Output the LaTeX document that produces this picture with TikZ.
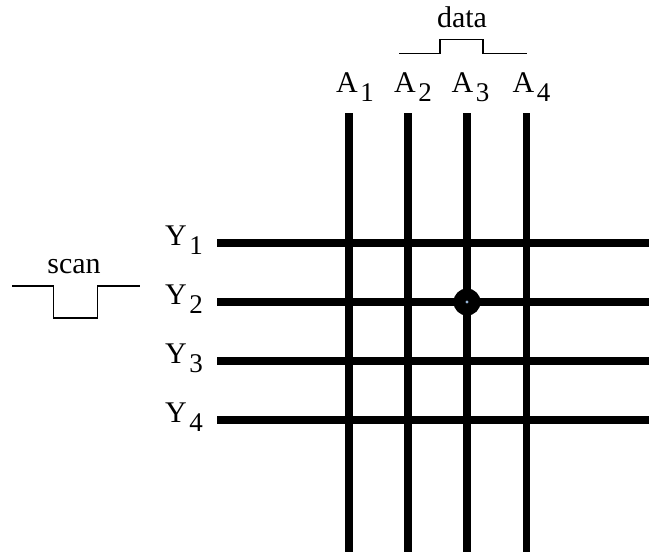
\documentclass[tikz,border=0pt]{standalone}
\usepackage{fontspec}
\setmainfont{Liberation Serif}
\newcommand{\sublab}[2]{#1\hspace{0.08em}\raisebox{-0.3em}{\fontsize{27}{27}\selectfont #2}}
\tikzset{
  wire/.style={line width=7.5pt},
  pulse/.style={line width=1.8pt},
  lab/.style={inner sep=0pt,anchor=base west,font=\fontsize{30}{30}\selectfont}
}
\begin{document}
\begin{tikzpicture}[x=1pt,y=-1pt]
  \useasboundingbox (0,0) rectangle (649,552);
  % address lines
  \draw[wire] (349,113) -- (349,552);
  \draw[wire] (408,113) -- (408,552);
  \draw[wire] (467,113) -- (467,552);
  \draw[wire] (526.5,113) -- (526.5,552);
  % scan lines
  \draw[wire] (217,243) -- (649,243);
  \draw[wire] (217,302) -- (649,302);
  \draw[wire] (217,361) -- (649,361);
  \draw[wire] (217,420) -- (649,420);
  % selected pixel
  \fill (467,302) circle (13.5);
  \fill[color={rgb,255:red,150;green,180;blue,215}] (467,302) circle (1.6);
  % data pulse
  \draw[pulse] (399,53.5) -- (440,53.5) -- (440,39.5) -- (483,39.5) -- (483,53.5) -- (527,53.5);
  \node[lab,anchor=base] (data) at (462,27) {data};
  % scan pulse
  \draw[pulse] (12,286) -- (53.5,286) -- (53.5,318) -- (97.5,318) -- (97.5,286) -- (140,286);
  \node[lab,anchor=base] (scan) at (74,273) {scan};
  % labels
  \node[lab] (a1) at (336,92) {\sublab{A}{1}};
  \node[lab] (a2) at (394,92) {\sublab{A}{2}};
  \node[lab] (a3) at (451.5,92) {\sublab{A}{3}};
  \node[lab] (a4) at (512.5,92) {\sublab{A}{4}};
  \node[lab] (y1) at (165,245) {\sublab{Y}{1}};
  \node[lab] (y2) at (165,304) {\sublab{Y}{2}};
  \node[lab] (y3) at (165,363) {\sublab{Y}{3}};
  \node[lab] (y4) at (165,422) {\sublab{Y}{4}};
\end{tikzpicture}
\end{document}
